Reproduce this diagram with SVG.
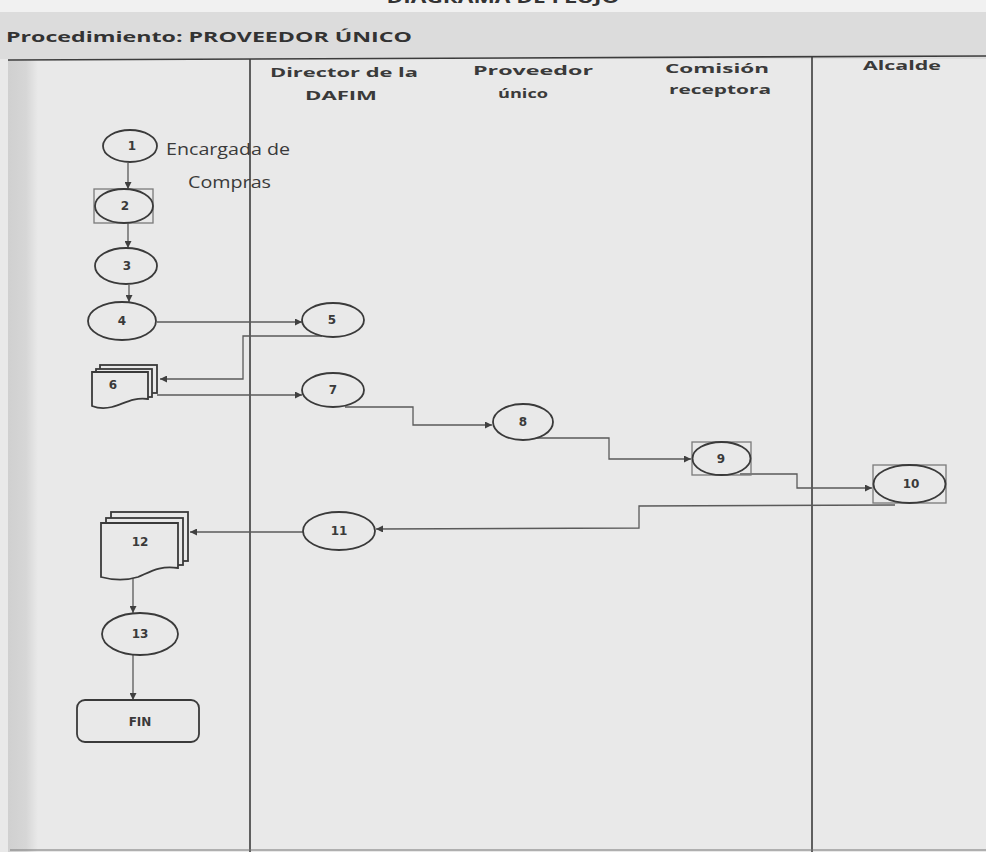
<svg xmlns="http://www.w3.org/2000/svg" width="986" height="852" viewBox="0 0 986 852">
<defs>
<style>
.bg{fill:#e9e9e9}
.lane{stroke:#3c3c3c;stroke-width:1.6;fill:none}
.shape{fill:#e9e9e9;stroke:#3a3a3a;stroke-width:1.8}
.box{fill:none;stroke:#7a7a7a;stroke-width:1.3}
.conn{fill:none;stroke:#5a5a5a;stroke-width:1.3}
.num{font-family:"DejaVu Sans",sans-serif;font-weight:bold;font-size:12px;fill:#3a3a3a;text-anchor:middle}
.hdr{font-family:"Open Sans","Liberation Sans",sans-serif;font-weight:bold;font-size:13px;fill:#3a3a3a;text-anchor:middle}
.lbl{font-family:"Open Sans","Liberation Sans",sans-serif;font-size:17px;fill:#3a3a3a}
</style>
<marker id="arr" viewBox="0 0 10 10" refX="10" refY="5" markerWidth="8" markerHeight="7" markerUnits="userSpaceOnUse" orient="auto">
<path d="M0,0 L10,5 L0,10 Z" fill="#404040"/>
</marker>
<linearGradient id="strip" x1="0" x2="1" y1="0" y2="0">
<stop offset="0" stop-color="#d0d0d0"/>
<stop offset="0.6" stop-color="#d6d6d6"/>
<stop offset="1" stop-color="#e9e9e9"/>
</linearGradient>
</defs>
<rect x="0" y="0" width="986" height="852" class="bg"/>
<rect x="0" y="0" width="986" height="12" fill="#f1f1f1"/>
<rect x="0" y="12" width="986" height="47" fill="#dcdcdc"/>
<rect x="8" y="60" width="30" height="792" fill="url(#strip)"/>
<text x="503" y="3" font-family="Open Sans, Liberation Sans, sans-serif" font-weight="bold" font-size="16" fill="#333" text-anchor="middle" textLength="233" lengthAdjust="spacingAndGlyphs">DIAGRAMA DE FLUJO</text>
<text x="6" y="42" font-family="Open Sans, Liberation Sans, sans-serif" font-weight="bold" font-size="15" fill="#333" textLength="406" lengthAdjust="spacingAndGlyphs">Procedimiento:  PROVEEDOR ÚNICO</text>
<g id="lanes">
<line x1="8" y1="60" x2="986" y2="56" class="lane"/>
<line x1="250" y1="59" x2="250" y2="852" class="lane"/>
<line x1="812" y1="56" x2="812" y2="852" class="lane"/>
<line x1="10" y1="850" x2="986" y2="850" stroke="#777" stroke-width="1.2"/>
<text class="hdr" x="344" y="77" textLength="148" lengthAdjust="spacingAndGlyphs">Director de la</text>
<text class="hdr" x="341" y="100" textLength="72" lengthAdjust="spacingAndGlyphs">DAFIM</text>
<text class="hdr" x="533" y="75" textLength="120" lengthAdjust="spacingAndGlyphs">Proveedor</text>
<text class="hdr" x="523" y="98" textLength="50" lengthAdjust="spacingAndGlyphs">único</text>
<text class="hdr" x="717" y="73" textLength="104" lengthAdjust="spacingAndGlyphs">Comisión</text>
<text class="hdr" x="720" y="94" textLength="102" lengthAdjust="spacingAndGlyphs">receptora</text>
<text class="hdr" x="902" y="70" textLength="78" lengthAdjust="spacingAndGlyphs">Alcalde</text>
</g>
<g id="connectors">
<line x1="128" y1="163" x2="128" y2="189" class="conn" marker-end="url(#arr)"/>
<line x1="128" y1="223" x2="128" y2="248" class="conn" marker-end="url(#arr)"/>
<line x1="129" y1="285" x2="129" y2="302" class="conn" marker-end="url(#arr)"/>
<line x1="157" y1="322" x2="302" y2="322" class="conn" marker-end="url(#arr)"/>
<polyline points="322,336 243,336 243,379 160,379" class="conn" marker-end="url(#arr)"/>
<line x1="157" y1="395" x2="302" y2="395" class="conn" marker-end="url(#arr)"/>
<polyline points="345,407 413,407 413,425 492,425" class="conn" marker-end="url(#arr)"/>
<polyline points="535,438 609,438 609,459 691,459" class="conn" marker-end="url(#arr)"/>
<polyline points="740,474 797,474 797,488 872,488" class="conn" marker-end="url(#arr)"/>
<polyline points="895,505 639,506 639,528 376,529" class="conn" marker-end="url(#arr)"/>
<line x1="303" y1="532" x2="190" y2="532" class="conn" marker-end="url(#arr)"/>
<line x1="133" y1="578" x2="133" y2="613" class="conn" marker-end="url(#arr)"/>
<line x1="133" y1="655" x2="133" y2="700" class="conn" marker-end="url(#arr)"/>
</g>
<g id="n1">
<ellipse cx="130" cy="146" rx="27" ry="16" class="shape"/>
<text class="num" x="132" y="150">1</text>
<text class="lbl" x="166" y="155" textLength="124" lengthAdjust="spacingAndGlyphs">Encargada de</text>
<text class="lbl" x="188" y="188" textLength="83" lengthAdjust="spacingAndGlyphs">Compras</text>
</g>
<g id="n2">
<rect x="94" y="189" width="59" height="34" class="box"/>
<ellipse cx="124" cy="206" rx="29" ry="17" class="shape"/>
<text class="num" x="125" y="210">2</text>
</g>
<g id="n3">
<ellipse cx="126" cy="266" rx="31" ry="18" class="shape"/>
<text class="num" x="127" y="270">3</text>
</g>
<g id="n4">
<ellipse cx="122" cy="321" rx="34" ry="19" class="shape"/>
<text class="num" x="122" y="325">4</text>
</g>
<g id="n5">
<ellipse cx="333" cy="320" rx="31" ry="17" class="shape"/>
<text class="num" x="332" y="324">5</text>
</g>
<g id="n6">
<rect x="100" y="365" width="57" height="28" class="shape" stroke-width="1.4"/>
<rect x="96" y="369" width="56" height="28" class="shape" stroke-width="1.4"/>
<path d="M92,372 H148 V399 C132,397 124,404 112,407 C104,409 97,408 92,406 Z" class="shape"/>
<text class="num" x="113" y="389">6</text>
</g>
<g id="n7">
<ellipse cx="333" cy="390" rx="31" ry="17" class="shape"/>
<text class="num" x="333" y="394">7</text>
</g>
<g id="n8">
<ellipse cx="523" cy="422" rx="30" ry="18" class="shape"/>
<text class="num" x="523" y="426">8</text>
</g>
<g id="n9">
<rect x="692" y="442" width="59" height="33" class="box"/>
<ellipse cx="721.5" cy="458.5" rx="29" ry="16.5" class="shape"/>
<text class="num" x="721" y="463">9</text>
</g>
<g id="n10">
<rect x="873" y="465" width="73" height="38" class="box"/>
<ellipse cx="909.5" cy="484" rx="36" ry="19" class="shape"/>
<text class="num" x="911" y="488">10</text>
</g>
<g id="n11">
<ellipse cx="339" cy="531" rx="36" ry="19" class="shape"/>
<text class="num" x="339" y="535">11</text>
</g>
<g id="n12">
<rect x="111" y="512" width="77" height="49" class="shape" stroke-width="1.4"/>
<rect x="106" y="518" width="77" height="47" class="shape" stroke-width="1.4"/>
<path d="M101,523 H178 V568 C160,565 150,572 138,577 C125,581 112,580 101,577 Z" class="shape"/>
<text class="num" x="140" y="546">12</text>
</g>
<g id="n13">
<ellipse cx="140" cy="634" rx="38" ry="21" class="shape"/>
<text class="num" x="140" y="638">13</text>
</g>
<g id="fin">
<rect x="77" y="700" width="122" height="42" rx="8" class="shape"/>
<text class="num" x="140" y="726">FIN</text>
</g>
</svg>
